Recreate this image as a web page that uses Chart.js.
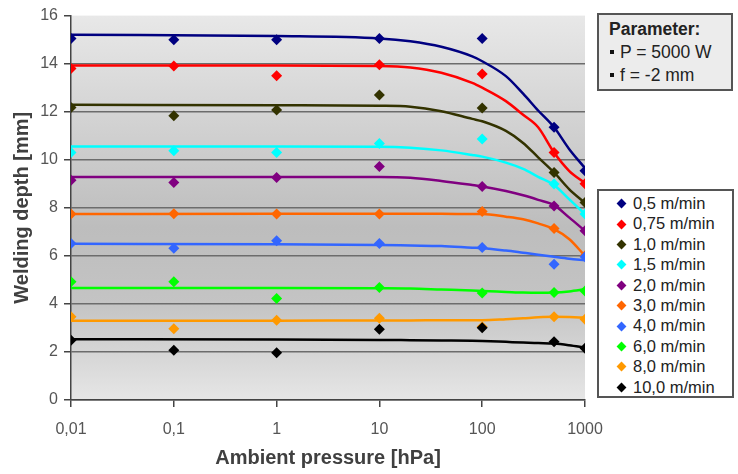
<!DOCTYPE html>
<html>
<head>
<meta charset="utf-8">
<script src="https://cdn.jsdelivr.net/npm/chart.js@4"></script>
<style>
  body { margin:0; background:#fff; font-family:Arial,'Liberation Sans',sans-serif; }
  #wrap { position:relative; width:738px; height:474px; }
  .box { position:absolute; border:2px solid #555; box-sizing:border-box; color:#222; }
  #param { left:597px; top:13px; width:136px; height:78px; background:#ececec;
           padding:3px 0 0 10px; font-size:17.5px; line-height:23px; }
  #param b { font-weight:bold; }
  .sq { display:inline-block; width:4px; height:4px; background:#111; vertical-align:middle; margin:0 6px 3px 1px; }
  #legend { left:597px; top:189px; width:137px; height:209px; background:#fff;
            padding:2px 0 0 19px; font-size:16.5px; line-height:20.4px; }
  .dm { display:inline-block; width:7px; height:7px; transform:rotate(45deg); margin:0 8px 2px 0; vertical-align:middle; }
</style>
</head>
<body>
<div id="wrap">
  <canvas id="chart" width="738" height="474"></canvas>
  <div id="param" class="box"></div>
  <div id="legend" class="box"></div>
</div>
<script>
// ── Data ──────────────────────────────────────────────────────
const pressures = [0.01, 0.1, 1, 10, 100, 500, 1000];   // hPa
const xTicks    = [0.01, 0.1, 1, 10, 100, 1000];
const speeds    = ['0,5 m/min','0,75 m/min','1,0 m/min','1,5 m/min','2,0 m/min',
                   '3,0 m/min','4,0 m/min','6,0 m/min','8,0 m/min','10,0 m/min'];
const colors    = ['#000080','#ff0000','#333300','#00ffff','#800080',
                   '#ff6600','#3366ff','#00ff00','#ff9900','#000000'];
const paramLines = ['P = 5000 W', 'f = -2 mm'];

// measured depth [mm]
const v05  = [15.05, 15.0, 15.0, 15.05, 15.05, 11.35, 9.54];
const v075 = [13.8, 13.9, 13.5, 13.95, 13.57, 10.3, 9.0];
const v10  = [12.18, 11.83, 12.07, 12.7, 12.15, 9.47, 8.22];
const v15  = [10.3, 10.37, 10.3, 10.68, 10.86, 8.99, 7.74];
const v20  = [9.15, 9.05, 9.26, 9.72, 8.89, 8.08, 7.04];
const v30  = [7.74, 7.75, 7.74, 7.74, 7.85, 7.14, 6.0];
const v40  = [6.51, 6.32, 6.63, 6.51, 6.35, 5.65, 5.96];
const v60  = [4.92, 4.92, 4.22, 4.68, 4.45, 4.47, 4.54];
const v80  = [3.46, 2.97, 3.32, 3.4, 3.05, 3.46, 3.36];
const v100 = [2.49, 2.07, 1.97, 2.95, 3.01, 2.42, 2.15];
const measured = [v05, v075, v10, v15, v20, v30, v40, v60, v80, v100];

// trend curves
const fitX = [0.01, 1, 10, 20, 40, 80, 100, 170, 250, 350, 500, 700, 1000];
const f05  = [15.2, 15.15, 15.05, 14.93, 14.7, 14.3, 14.1, 13.48, 12.75, 12.05, 11.35, 10.45, 9.65];
const f075 = [13.92, 13.92, 13.9, 13.84, 13.62, 13.2, 13.0, 12.44, 11.87, 11.35, 10.3, 9.54, 9.03];
const f10  = [12.29, 12.27, 12.25, 12.21, 12.02, 11.7, 11.6, 11.2, 10.7, 10.1, 9.47, 8.78, 8.2];
const f15  = [10.55, 10.55, 10.54, 10.5, 10.39, 10.2, 10.13, 9.88, 9.62, 9.29, 8.95, 8.36, 7.74];
const f20  = [9.28, 9.28, 9.28, 9.25, 9.12, 8.95, 8.89, 8.7, 8.52, 8.33, 8.11, 7.6, 7.04];
const f30  = [7.74, 7.75, 7.75, 7.75, 7.75, 7.74, 7.74, 7.63, 7.52, 7.35, 7.11, 6.7, 6.0];
const f40  = [6.5, 6.48, 6.45, 6.43, 6.41, 6.34, 6.32, 6.22, 6.13, 6.05, 5.96, 5.88, 5.82];
const f60  = [4.66, 4.66, 4.65, 4.64, 4.6, 4.56, 4.54, 4.5, 4.47, 4.46, 4.47, 4.52, 4.61];
const f80  = [3.3, 3.3, 3.31, 3.31, 3.32, 3.32, 3.32, 3.36, 3.4, 3.44, 3.46, 3.45, 3.43];
const f100 = [2.53, 2.52, 2.5, 2.49, 2.48, 2.47, 2.46, 2.42, 2.39, 2.37, 2.35, 2.28, 2.18];
const fits = [f05, f075, f10, f15, f20, f30, f40, f60, f80, f100];

// ── Boxes (HTML) ──────────────────────────────────────────────
document.getElementById('param').innerHTML =
  '<b>Parameter:</b><br>' + paramLines.map(t => `<span class="sq"></span>${t}`).join('<br>');
document.getElementById('legend').innerHTML =
  speeds.map((s,i) => `<div><span class="dm" style="background:${colors[i]}"></span>${s}</div>`).join('');

// ── Chart ─────────────────────────────────────────────────────
const FONT = "Arial, 'Liberation Sans', sans-serif";
const datasets = [];
speeds.forEach((s,i) => {
  datasets.push({
    label: s, data: pressures.map((x,j) => ({x, y: measured[i][j]})),
    showLine:false, pointStyle:'rectRot', pointRadius:5.5,
    backgroundColor:colors[i], borderColor:colors[i], borderWidth:0, order: 10 - i,
  });
  datasets.push({
    label: s + ' fit', data: fitX.map((x,j) => ({x, y: fits[i][j]})),
    showLine:true, pointRadius:0, borderColor:colors[i], borderWidth:2.5,
    cubicInterpolationMode:'monotone', fill:false, order: 30 - i,
  });
});

const bgPlugin = {
  id:'plotBg',
  beforeDraw(chart) {
    const {ctx, chartArea:a} = chart;
    const g = ctx.createLinearGradient(0, a.top, 0, a.bottom);
    g.addColorStop(0, '#e8e8e8');
    g.addColorStop(0.55, '#bdbdbd');
    g.addColorStop(0.75, '#c4c4c4');
    g.addColorStop(1, '#e6e6e6');
    ctx.save(); ctx.fillStyle = g;
    ctx.fillRect(a.left, a.top, a.right - a.left, a.bottom - a.top);
    ctx.restore();
  }
};

new Chart(document.getElementById('chart'), {
  type:'scatter',
  data:{ datasets },
  plugins:[bgPlugin],
  options:{
    responsive:false, animation:false,
    layout:{ padding:{ top:15, right:153, left:0, bottom:0 } },
    plugins:{ legend:{display:false}, tooltip:{enabled:false} },
    scales:{
      x:{
        type:'logarithmic', min:0.01, max:1000,
        afterBuildTicks: sc => { sc.ticks = xTicks.map(v => ({value:v})); },
        afterFit: sc => { sc.height = 74; },
        ticks:{ autoSkip:false, maxRotation:0, padding:13, color:'#555',
                font:{family:FONT, size:16}, callback: v => String(v).replace('.', ',') },
        grid:{ drawOnChartArea:false, drawTicks:true, tickLength:7, tickColor:'#444', lineWidth:1.5 },
        border:{ color:'#444', width:1.5 },
        title:{ display:true, text:'Ambient pressure [hPa]', color:'#404040',
                font:{family:FONT, size:20, weight:'bold'}, padding:{top:0, bottom:4} },
      },
      y:{
        min:0, max:16,
        afterFit: sc => { sc.width = 71; },
        ticks:{ stepSize:2, padding:6, color:'#555', font:{family:FONT, size:16} },
        grid:{ color: c => c.tick && c.tick.value === 16 ? 'rgba(0,0,0,0)' : '#6c6c6c',
               lineWidth:1.5, tickLength:7, tickColor:'#444' },
        border:{ color:'#444', width:1.5 },
        title:{ display:true, text:'Welding depth [mm]', color:'#404040',
                font:{family:FONT, size:20, weight:'bold'}, padding:{top:10, bottom:0} },
      },
    },
  },
});
</script>
</body>
</html>
